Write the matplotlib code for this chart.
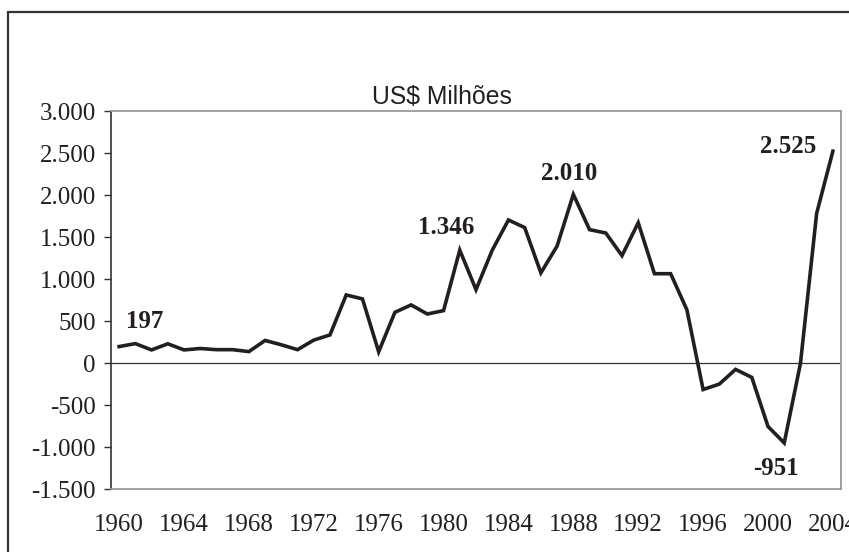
import matplotlib
matplotlib.use("Agg")
import matplotlib.pyplot as plt
from matplotlib.patches import Rectangle
from matplotlib.ticker import FuncFormatter, FixedLocator

# Saldo anual, US$ milhoes
years = list(range(1960, 2005))
values = [197, 232, 157, 230, 157, 174, 160, 160, 137, 270,
          218, 160, 274, 336, 812, 765, 135, 605, 693, 585,
          625, 1346, 875, 1345, 1705, 1615, 1075, 1395, 2010, 1590,
          1550, 1280, 1672, 1065, 1065, 635, -315, -250, -75, -170,
          -755, -951, -5, 1785, 2525]

# labelled points: (year, text, offset in pixels)
labels = [(1960, "197", (26, 19)),
          (1981, "1.346", (-14, 16)),
          (1988, "2.010", (-4, 14)),
          (2004, "2.525", (-45, -2)),
          (2001, "-951", (-8, -32))]

xticks = list(range(1960, 2005, 4))
yticks = list(range(-1500, 3001, 500))

SERIF = "Liberation Serif"
SANS = "Liberation Sans"
LINE = "#231f20"


def thousands(v, pos=None):
    s = f"{abs(int(v)):,}".replace(",", ".")
    return ("-" if v < 0 else "") + s


fig = plt.figure(figsize=(8.49, 5.52), dpi=100)
ax = fig.add_axes([111 / 849, 1 - 489 / 552, 730 / 849, (489 - 111.3) / 552])

ax.plot(years, values, color=LINE, linewidth=2.6, solid_joinstyle="miter")
ax.axhline(0, color="#333333", linewidth=0.9, zorder=1)

ax.set_xlim(1959.5, 2004.5)
ax.set_ylim(-1500, 3000)
ax.xaxis.set_major_locator(FixedLocator(xticks))
ax.yaxis.set_major_locator(FixedLocator(yticks))
ax.yaxis.set_major_formatter(FuncFormatter(thousands))

ax.tick_params(axis="x", length=0, pad=18, labelsize=18, labelcolor=LINE)
ax.tick_params(axis="y", length=5, width=1, pad=6, labelsize=18,
               labelcolor=LINE, color="#333333")
for lab in ax.get_xticklabels() + ax.get_yticklabels():
    lab.set_fontfamily(SERIF)

for side in ("top", "right", "bottom"):
    ax.spines[side].set_color("#9a9a9a")
    ax.spines[side].set_linewidth(1.3)
ax.spines["left"].set_color("#333333")
ax.spines["left"].set_linewidth(1.2)

for yr, txt, off in labels:
    ax.annotate(txt, xy=(yr, values[years.index(yr)]), xytext=off,
                textcoords="offset pixels", ha="center", va="baseline",
                fontfamily=SERIF, fontweight="bold", fontsize=18, color=LINE)

fig.text(442 / 849, 1 - 104 / 552, "US$ Milhões", ha="center", va="baseline",
         fontfamily=SANS, fontsize=17.8, color=LINE)

# outer chart frame (cut by the image edge on the right and bottom)
fig.patches.append(Rectangle((8.3 / 849, -0.1), 1.2, 1 - 12.3 / 552 + 0.1,
                             transform=fig.transFigure, fill=False,
                             edgecolor="#333333", linewidth=1.6))

fig.savefig("out.png", dpi=100)
